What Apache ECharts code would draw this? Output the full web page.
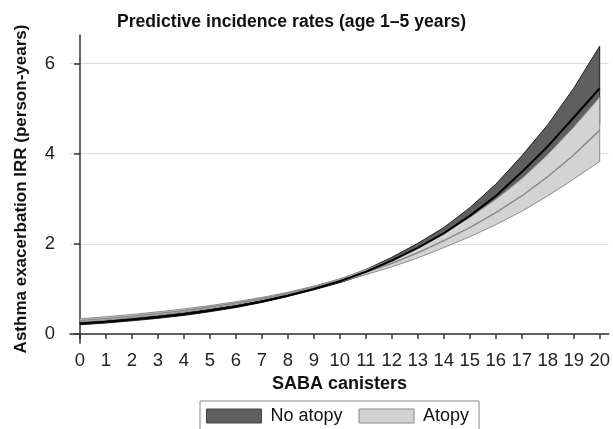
<!DOCTYPE html>
<html>
<head>
<meta charset="utf-8">
<script src="https://cdn.jsdelivr.net/npm/echarts@6/dist/echarts.min.js"></script>
<style>
html,body{margin:0;padding:0;background:#fff;}
#chart{width:613px;height:429px;}
</style>
</head>
<body>
<div id="chart"></div>
<script>
// SABA canisters
var canisters = [0,1,2,3,4,5,6,7,8,9,10,11,12,13,14,15,16,17,18,19,20];
// No atopy: predicted IRR and 95% CI
var noAtopyMean  = [0.23,0.27,0.32,0.375,0.44,0.52,0.61,0.72,0.85,1.00,1.17,1.38,1.63,1.91,2.23,2.62,3.06,3.59,4.16,4.80,5.45];
var noAtopyUpper = [0.259,0.300,0.350,0.405,0.470,0.548,0.635,0.741,0.868,1.021,1.204,1.430,1.700,2.010,2.360,2.800,3.320,3.950,4.640,5.450,6.383];
var noAtopyLower = [0.204,0.243,0.292,0.347,0.412,0.494,0.586,0.699,0.832,0.979,1.137,1.326,1.547,1.790,2.063,2.392,2.758,3.191,3.632,4.118,4.653];
// Atopy: predicted IRR and 95% CI
var atopyMean  = [0.30,0.344,0.395,0.454,0.521,0.598,0.687,0.788,0.905,1.04,1.19,1.37,1.57,1.80,2.07,2.36,2.69,3.06,3.49,3.97,4.52];
var atopyUpper = [0.338,0.382,0.433,0.491,0.556,0.630,0.715,0.811,0.924,1.062,1.225,1.426,1.654,1.921,2.238,2.585,2.985,3.443,3.979,4.589,5.250];
var atopyLower = [0.267,0.310,0.361,0.420,0.488,0.568,0.660,0.765,0.886,1.018,1.156,1.316,1.490,1.687,1.915,2.155,2.424,2.720,3.061,3.434,3.830];
// Tick labels
var yTicks = [0,2,4,6];
var xTicks = canisters.slice();

var FONT = 'Liberation Sans, Arial, sans-serif';

function bandRows(lo, up){
  return canisters.map(function(x,i){ return [x, lo[i], up[i]]; });
}
function zip(arr){
  return canisters.map(function(x,i){ return [x, arr[i]]; });
}
function bandRenderer(fill, stroke){
  return function(params, api){
    if (params.dataIndex !== 0) return null;
    var n = params.dataInsideLength;
    var pts = [], i;
    for (i = 0; i < n; i++) pts.push(api.coord([api.value(0, i), api.value(2, i)]));
    for (i = n - 1; i >= 0; i--) pts.push(api.coord([api.value(0, i), api.value(1, i)]));
    return {
      type: 'polygon',
      shape: { points: pts },
      style: { fill: fill, stroke: stroke, lineWidth: 1 }
    };
  };
}

var chart = echarts.init(document.getElementById('chart'), null, {renderer: 'canvas'});
chart.setOption({
  animation: false,
  backgroundColor: '#fff',
  textStyle: { fontFamily: FONT },
  title: {
    text: 'Predictive incidence rates (age 1\u20135 years)',
    left: 112, top: 8,
    textStyle: { fontFamily: FONT, fontSize: 17.6, fontWeight: 'bold', color: '#111' }
  },
  legend: {
    left: 200, top: 401,
    padding: [6, 10, 20, 6],
    borderColor: '#888', borderWidth: 1,
    itemWidth: 55, itemHeight: 14, itemGap: 16,
    icon: 'rect',
    textStyle: { fontFamily: FONT, fontSize: 18, color: '#111', padding: [0,0,0,4] },
    data: [
      { name: 'No atopy', itemStyle: { color: '#5f5f5f', borderColor: '#444', borderWidth: 1 } },
      { name: 'Atopy', itemStyle: { color: '#d3d3d3', borderColor: '#888', borderWidth: 1 } }
    ]
  },
  grid: { left: 70, right: 4, top: 35, bottom: 86 },
  xAxis: {
    type: 'value', min: -0.385, max: 20.35,
    name: 'SABA canisters', nameLocation: 'middle', nameGap: 31,
    nameTextStyle: { fontFamily: FONT, fontSize: 18, fontWeight: 'bold', color: '#111' },
    axisLine: { show: true, lineStyle: { color: '#333', width: 1.5 } },
    axisTick: { show: true, length: 5, lineStyle: { color: '#333', width: 1.5 }, customValues: xTicks },
    axisLabel: { customValues: xTicks, margin: 8, fontFamily: FONT, fontSize: 18.5, color: '#222' },
    splitLine: { show: false }
  },
  yAxis: {
    type: 'value', min: -0.2, max: 6.63,
    name: 'Asthma exacerbation IRR (person-years)', nameLocation: 'middle', nameGap: 40,
    nameTextStyle: { fontFamily: FONT, fontSize: 17, fontWeight: 'bold', color: '#111' },
    axisLine: { show: true, lineStyle: { color: '#333', width: 1.5 } },
    axisTick: { show: true, length: 6, lineStyle: { color: '#333', width: 1.5 }, customValues: yTicks },
    axisLabel: { customValues: yTicks, margin: 15, fontFamily: FONT, fontSize: 18.5, color: '#222' },
    splitLine: { show: true, lineStyle: { color: '#dcdcdc', width: 1 } }
  },
  series: [
    {
      name: 'No atopy', type: 'custom',
      itemStyle: { color: '#5f5f5f' },
      renderItem: bandRenderer('#5f5f5f', '#222'),
      encode: { x: 0, y: [1, 2] },
      data: bandRows(noAtopyLower, noAtopyUpper), z: 2
    },
    {
      name: 'Atopy', type: 'custom',
      itemStyle: { color: '#d3d3d3' },
      renderItem: bandRenderer('#d3d3d3', '#8c8c8c'),
      encode: { x: 0, y: [1, 2] },
      data: bandRows(atopyLower, atopyUpper), z: 3
    },
    {
      name: 'Atopy IRR', type: 'line', data: zip(atopyMean), symbol: 'none',
      lineStyle: { color: '#8a8a8a', width: 1.5 }, z: 4
    },
    {
      name: 'No atopy IRR', type: 'line', data: zip(noAtopyMean), symbol: 'none',
      lineStyle: { color: '#000', width: 2 }, z: 5
    }
  ]
});
</script>
</body>
</html>
